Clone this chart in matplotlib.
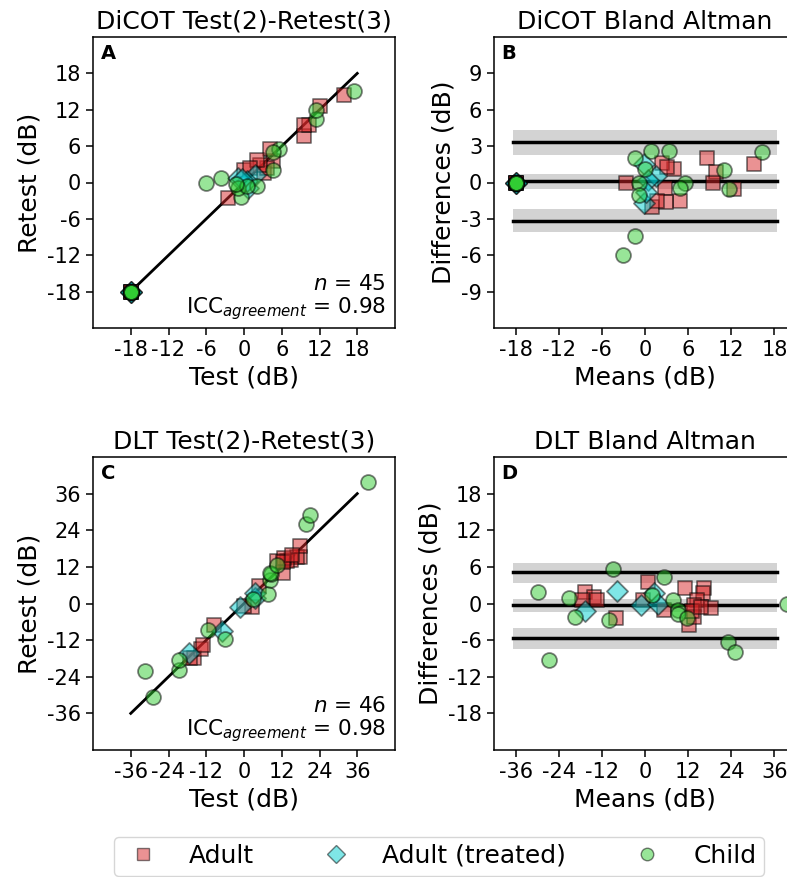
import numpy as np
import matplotlib
matplotlib.use("Agg")
import matplotlib.pyplot as plt
from matplotlib.lines import Line2D

plt.rcParams["axes.unicode_minus"] = False

# DiCOT test (2) and retest (3) thresholds, dB
dicot_adult_test = [9.6, 15.95, 10.35, 9.5, 12.15, 4.65, 3.2, 3.65, -2.6, 2.5, 4.1, 0.0, 2.1, 0.95,
                    -18, -18, -18, -18]
dicot_adult_retest = [7.6, 14.45, 9.45, 9.5, 12.65, 3.55, 1.6, 2.35, -2.6, 2.95, 5.6, 2.0, 3.7, 2.45,
                      -18, -18, -18, -18]
dicot_treated_test = [0.65, 1.75, 0.5, -0.95, -0.3, -18, -18, -18]
dicot_treated_retest = [-0.85, 1.25, 0.3, 0.75, 0.5, -18, -18, -18]
dicot_child_test = [-0.42, 2.1, 4.6, 17.55, 11.5, 11.45, -0.9, 0.55, -1.3, 5.55, 4.6, -3.65, -6.0,
                    -18, -18, -18, -18, -18, -18]
dicot_child_retest = [-2.46, -0.5, 2.0, 15.05, 10.5, 11.95, -0.9, -0.55, -0.3, 5.55, 5.05, 0.75, 0.0,
                      -18, -18, -18, -18, -18, -18]
dicot_mean_diff = 0.1
dicot_loa = [-3.14, 3.33]
dicot_mean_ci = [-0.52, 0.72]
dicot_lower_ci = [-4.1, -2.15]
dicot_upper_ci = [2.3, 4.3]

# DLT test (2) and retest (3) thresholds, dB
dlt_adult_test = [-15.85, -13.65, -13.0, -17.2, -9.4, 2.5, -0.15, 4.75, 12.45, 17.75, 16.95, 14.9,
                  13.6, 17.95, 10.55, 12.6, 12.35, 15.35]
dlt_adult_retest = [-17.75, -14.75, -13.6, -17.8, -7.0, -1.1, -0.75, 5.85, 9.95, 15.25, 15.25, 14.3,
                    13.8, 18.75, 14.05, 14.8, 13.65, 15.85]
dlt_treated_test = [-17.45, -6.9, -1.3, 3.35, 3.5]
dlt_treated_retest = [-16.15, -8.95, -1.05, 1.65, 3.5]
dlt_child_test = [-28.85, -31.45, -20.7, -20.7, -11.45, -6.0, 7.5, 2.75, 8.2, 8.5, 8.35, 10.4,
                  19.85, 20.95, 39.55]
dlt_child_retest = [-30.75, -22.15, -21.65, -18.5, -8.75, -11.6, 3.1, 1.35, 7.6, 9.6, 10.05, 12.7,
                    26.15, 28.85, 39.65]
dlt_mean_diff = -0.25
dlt_loa = [-5.6, 5.1]
dlt_mean_ci = [-1.34, 0.74]
dlt_lower_ci = [-7.4, -4.0]
dlt_upper_ci = [3.3, 6.7]

groups = ["Adult", "Adult (treated)", "Child"]
markers = ["s", "D", "o"]
colors = ["tab:red", "darkturquoise", "limegreen"]

W, H = 787, 877
fig = plt.figure(figsize=(W / 100, H / 100), dpi=100)

def box(x0, y0, x1, y1):
    return [x0 / W, 1 - y1 / H, (x1 - x0) / W, (y1 - y0) / H]

axA = fig.add_axes(box(93, 37, 395, 328))
axB = fig.add_axes(box(494, 37, 796, 328))
axC = fig.add_axes(box(93, 457, 395, 750))
axD = fig.add_axes(box(494, 457, 796, 750))

FS_LAB = 18
FS_TICK = 15

def scatter_groups(ax, data, ba=False):
    for (t, r), m, c in zip(data, markers, colors):
        t = np.array(t); r = np.array(r)
        if ba:
            x, y = (t + r) / 2, t - r
        else:
            x, y = t, r
        ax.scatter(x, y, marker=m, s=115, facecolor=c, edgecolor="k", alpha=0.5,
                   linewidth=1.3, zorder=3)

def regression_panel(ax, data, lim, ticks, span, title, letter, n, icc):
    ax.plot(span, span, color="k", lw=2, zorder=2)
    scatter_groups(ax, data)
    ax.set_xlim(-lim, lim); ax.set_ylim(-lim, lim)
    ax.set_xticks(ticks); ax.set_yticks(ticks)
    ax.set_xlabel("Test (dB)", fontsize=FS_LAB)
    ax.set_ylabel("Retest (dB)", fontsize=FS_LAB)
    ax.set_title(title, fontsize=FS_LAB)
    ax.text(0.97, 0.02, "$n$ = %d\nICC$_{agreement}$ = %.2f" % (n, icc), transform=ax.transAxes,
            ha="right", va="bottom", fontsize=15.5, linespacing=1.05)
    ax.text(0.025, 0.975, letter, transform=ax.transAxes, ha="left", va="top",
            fontsize=14, fontweight="bold")

def ba_panel(ax, data, xlim, ylim, xticks, yticks, span, mean_d, loa, cis, title, letter):
    for lo, hi in cis:
        ax.fill_between(span, lo, hi, color="lightgrey", lw=0, zorder=1)
    for v in [mean_d] + list(loa):
        ax.plot(span, [v, v], color="k", lw=2.5, zorder=2)
    scatter_groups(ax, data, ba=True)
    ax.set_xlim(-xlim, xlim); ax.set_ylim(-ylim, ylim)
    ax.set_xticks(xticks); ax.set_yticks(yticks)
    ax.set_xlabel("Means (dB)", fontsize=FS_LAB)
    ax.set_ylabel("Differences (dB)", fontsize=FS_LAB)
    ax.set_title(title, fontsize=FS_LAB)
    ax.text(0.025, 0.975, letter, transform=ax.transAxes, ha="left", va="top",
            fontsize=14, fontweight="bold")

dicot = [(dicot_adult_test, dicot_adult_retest), (dicot_treated_test, dicot_treated_retest),
         (dicot_child_test, dicot_child_retest)]
dlt = [(dlt_adult_test, dlt_adult_retest), (dlt_treated_test, dlt_treated_retest),
       (dlt_child_test, dlt_child_retest)]

regression_panel(axA, dicot, 24, np.arange(-18, 19, 6), [-18, 18],
                 "DiCOT Test(2)-Retest(3)", "A", 45, 0.98)
ba_panel(axB, dicot, 21, 12, np.arange(-18, 19, 6), np.arange(-9, 10, 3), [-18.3, 18.3],
         dicot_mean_diff, dicot_loa, [dicot_lower_ci, dicot_mean_ci, dicot_upper_ci],
         "DiCOT Bland Altman", "B")
regression_panel(axC, dlt, 48, np.arange(-36, 37, 12), [-36, 36],
                 "DLT Test(2)-Retest(3)", "C", 46, 0.98)
ba_panel(axD, dlt, 42, 24, np.arange(-36, 37, 12), np.arange(-18, 19, 6), [-36.6, 36.6],
         dlt_mean_diff, dlt_loa, [dlt_lower_ci, dlt_mean_ci, dlt_upper_ci],
         "DLT Bland Altman", "D")

for ax in [axA, axB, axC, axD]:
    ax.tick_params(labelsize=FS_TICK, length=5, width=1.1)
    for sp in ax.spines.values():
        sp.set_linewidth(1.1)

handles = [Line2D([], [], ls="none", marker=m, markersize=9, markerfacecolor=c,
                  markeredgecolor="k", alpha=0.5) for m, c in zip(markers, colors)]
fig.legend(handles, groups, loc="center", bbox_to_anchor=(439 / W, 1 - 856 / H),
           ncol=3, fontsize=18, handlelength=1.7, handletextpad=1.0, columnspacing=2.4,
           borderpad=0.3)

fig.savefig("out.png", dpi=100)
